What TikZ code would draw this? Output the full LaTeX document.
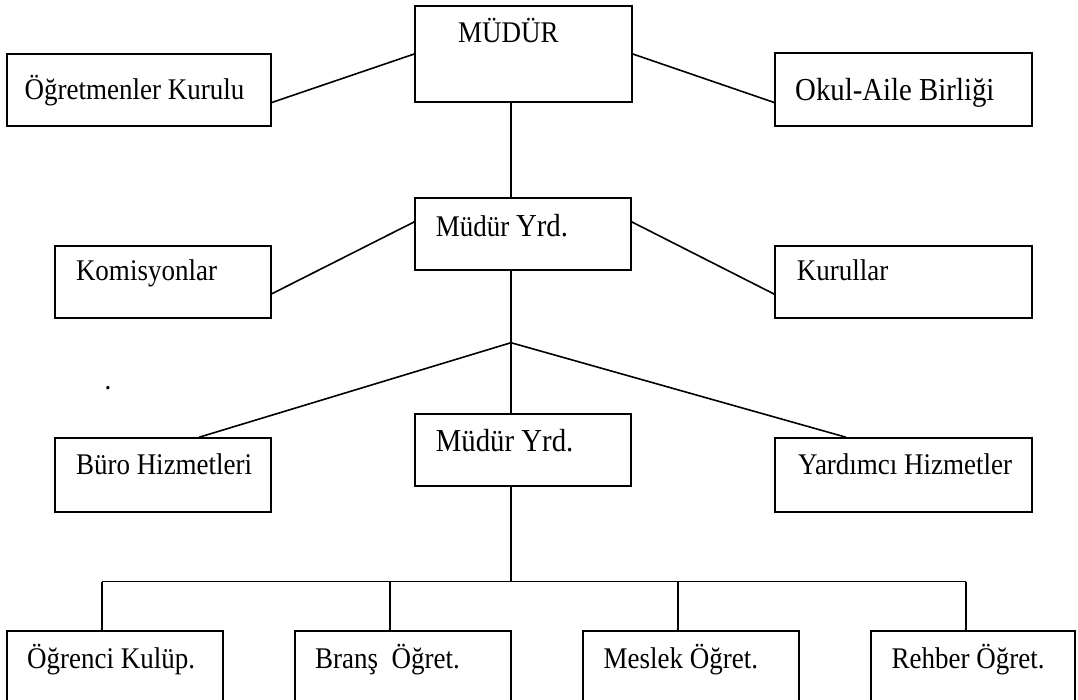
\documentclass[tikz,border=0pt]{standalone}
\usepackage{fontspec}
\setmainfont[FakeStretch=0.9]{Liberation Serif}
\usetikzlibrary{calc}
\tikzset{
  orgbox/.style={draw, line width=1.6pt, inner sep=0pt},
  conn/.style={line width=1.6pt},
  lbl/.style={anchor=base west, inner sep=0pt, font=\fontsize{30}{33}\selectfont},
  lblbig/.style={lbl, font=\fontsize{32}{35}\selectfont}
}
\begin{document}
\begin{tikzpicture}[x=1pt,y=-1pt]
\useasboundingbox (0,0) rectangle (1078,699);
\clip (0,0) rectangle (1078,699);
% boxes
\node[orgbox, minimum width=217pt, minimum height=96pt] (mudur) at (523.5,54) {};
\node[orgbox, minimum width=264pt, minimum height=72pt] (ogret) at (139,90) {};
\node[orgbox, minimum width=257pt, minimum height=73pt] (okul) at (903.5,89.5) {};
\node[orgbox, minimum width=216pt, minimum height=72pt] (yrd1) at (523,234) {};
\node[orgbox, minimum width=216pt, minimum height=72pt] (komis) at (163,282) {};
\node[orgbox, minimum width=257pt, minimum height=72pt] (kurul) at (903.5,282) {};
\node[orgbox, minimum width=216pt, minimum height=74pt] (buro) at (163,475) {};
\node[orgbox, minimum width=216pt, minimum height=72pt] (yrd2) at (523,450) {};
\node[orgbox, minimum width=257pt, minimum height=74pt] (yard) at (903.5,475) {};
\node[orgbox, minimum width=216pt, minimum height=80pt] (b1) at (115,671) {};
\node[orgbox, minimum width=216pt, minimum height=80pt] (b2) at (403,671) {};
\node[orgbox, minimum width=216pt, minimum height=80pt] (b3) at (691,671) {};
\node[orgbox, minimum width=204pt, minimum height=80pt] (b4) at (973,671) {};
% labels
\node[lbl] (tmudur) at (458,42.7) {MÜDÜR};
\node[lbl] (togret) at (24.5,99.3) {Öğretmenler Kurulu};
\node[lblbig] (tokul) at (795,100) {Okul-Aile Birliği};
\node[lbl] (tyrd1) at (435.6,236) {Müdür \fontsize{32}{35}\selectfont Yrd.};
\node[lbl] (tkomis) at (75.8,280) {Komisyonlar};
\node[lbl] (tkurul) at (796.7,280.7) {Kurullar};
\node[lbl] (tburo) at (75.8,474) {Büro Hizmetleri};
\node[lblbig] (tyrd2) at (435.6,451.7) {Müdür Yrd.};
\node[lbl] (tyard) at (798,474) {Yardımcı Hizmetler};
\node[lbl] (tb1) at (27,668) {Öğrenci Kulüp.};
\node[lbl] (tb2) at (315,668) {Branş\ \ Öğret.};
\node[lbl] (tb3) at (603.5,668) {Meslek Öğret.};
\node[lbl] (tb4) at (891.5,668) {Rehber Öğret.};
\node[lbl] (dot) at (104.5,389) {.};
% connectors
\coordinate (j) at (511,342.7);
\draw[conn] (mudur.west) -- ($(ogret.south east)+(0,-24.3)$);
\draw[conn] (mudur.east) -- ($(okul.south west)+(0,-24.3)$);
\draw[conn] (j |- mudur.south) -- (j |- yrd1.north);
\draw[conn] ($(yrd1.north west)+(0,24.7)$) -- ($(komis.south east)+(0,-25)$);
\draw[conn] ($(yrd1.north east)+(0,24.7)$) -- ($(kurul.south west)+(0,-24.7)$);
\draw[conn] (j |- yrd1.south) -- (j) -- (j |- yrd2.north);
\draw[conn] (j) -- ($(buro.north west)+(145,0)$);
\draw[conn] (j) -- ($(yard.north west)+(71.7,0)$);
\coordinate (busL) at ($(b1.north west)+(96,-48.7)$);
\coordinate (busR) at ($(b4.north west)+(96,-48.7)$);
\draw[conn] (j |- yrd2.south) -- (j |- busL);
\draw[conn] (busL) -- (busR);
\foreach \b in {b1,b2,b3,b4} \draw[conn] ($(\b.north west)+(96,0)$) -- ++(0,-48.7);
\end{tikzpicture}
\end{document}
